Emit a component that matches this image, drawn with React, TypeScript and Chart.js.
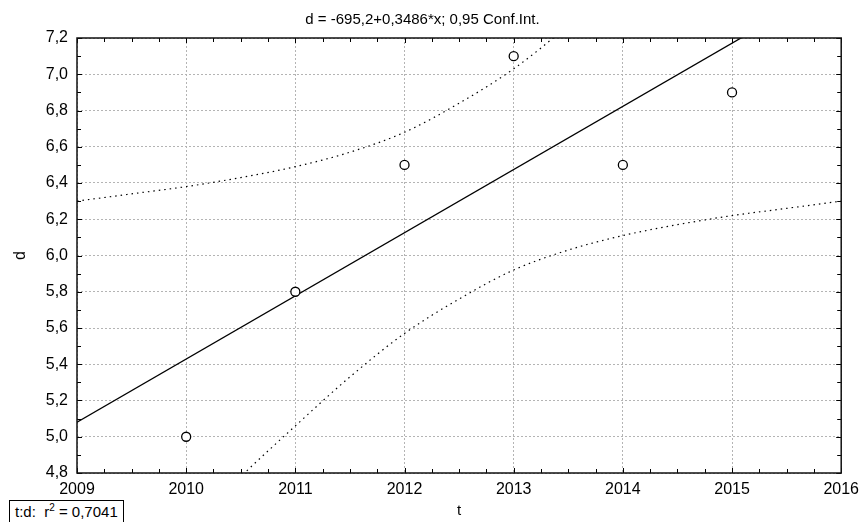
import React, { useEffect, useRef } from "react";
import { Chart, registerables } from "chart.js";

Chart.register(...registerables);

// ---- data ----
const titleText = "d = -695,2+0,3486*x; 0,95 Conf.Int.";
const xTitle = "t";
const yTitle = "d";
const years = [2010, 2011, 2012, 2013, 2014, 2015];
const dValues = [5.0, 5.8, 6.5, 7.1, 6.5, 6.9];
const fitX = [2009, 2016];
const fitY = [5.08, 7.52];
const bandX = [2009, 2009.5, 2010, 2010.5, 2011, 2011.5, 2012, 2012.5, 2013, 2013.5, 2014, 2014.5, 2015, 2015.5, 2016];
const upperBand = [6.30, 6.34, 6.38, 6.43, 6.49, 6.57, 6.68, 6.84, 7.03, 7.27, 7.54, 7.82, 8.12, 8.43, 8.74];
const lowerBand = [3.86, 4.17, 4.48, 4.78, 5.06, 5.33, 5.57, 5.76, 5.92, 6.03, 6.11, 6.17, 6.22, 6.26, 6.30];
const xMin = 2009, xMax = 2016, xStep = 1, xMinorStep = 0.25;
const yMin = 4.8, yMax = 7.2, yStep = 0.2, yMinorStep = 0.1;
const r2Label = "0,7041";

const FONT = 'Arial, "Liberation Sans", sans-serif';

const framePlugin = {
  id: "frameTicks",
  afterDraw(chart: any) {
    const { ctx, chartArea } = chart;
    const { left, right, top, bottom } = chartArea;
    const xs = chart.scales.x;
    const ys = chart.scales.y;
    ctx.save();
    ctx.strokeStyle = "#000";
    ctx.lineWidth = 1;
    ctx.beginPath();
    const nx = Math.round((xMax - xMin) / xMinorStep);
    for (let i = 0; i <= nx; i++) {
      const v = xMin + i * xMinorStep;
      const px = Math.round(xs.getPixelForValue(v)) + 0.5;
      const len = i % Math.round(xStep / xMinorStep) === 0 ? 5 : 4;
      ctx.moveTo(px, bottom);
      ctx.lineTo(px, bottom - len);
      ctx.moveTo(px, top);
      ctx.lineTo(px, top + len);
    }
    const ny = Math.round((yMax - yMin) / yMinorStep);
    for (let i = 0; i <= ny; i++) {
      const v = yMin + i * yMinorStep;
      const py = Math.round(ys.getPixelForValue(v)) + 0.5;
      const len = i % Math.round(yStep / yMinorStep) === 0 ? 5 : 4;
      ctx.moveTo(left, py);
      ctx.lineTo(left + len, py);
      ctx.moveTo(right, py);
      ctx.lineTo(right - len, py);
    }
    ctx.stroke();
    ctx.lineWidth = 1.5;
    ctx.strokeStyle = "#111";
    ctx.strokeRect(left, top, right - left, bottom - top);
    ctx.restore();
  },
};

export default function App() {
  const canvasRef = useRef<HTMLCanvasElement | null>(null);

  useEffect(() => {
    if (!canvasRef.current) return;
    Chart.defaults.font.family = FONT;
    Chart.defaults.color = "#000";
    const chart = new Chart(canvasRef.current, {
      type: "scatter",
      data: {
        datasets: [
          {
            label: "d",
            data: years.map((x, i) => ({ x, y: dValues[i] })),
            pointRadius: 4.5,
            pointBackgroundColor: "#fff",
            pointBorderColor: "#000",
            pointBorderWidth: 1.3,
            showLine: false,
          },
          {
            label: "fit",
            data: fitX.map((x, i) => ({ x, y: fitY[i] })),
            showLine: true,
            borderColor: "#000",
            borderWidth: 1.3,
            pointRadius: 0,
          },
          {
            label: "upper",
            data: bandX.map((x, i) => ({ x, y: upperBand[i] })),
            showLine: true,
            borderColor: "#000",
            borderWidth: 1.2,
            borderDash: [1.5, 4],
            pointRadius: 0,
            cubicInterpolationMode: "monotone",
          },
          {
            label: "lower",
            data: bandX.map((x, i) => ({ x, y: lowerBand[i] })),
            showLine: true,
            borderColor: "#000",
            borderWidth: 1.2,
            borderDash: [1.5, 4],
            pointRadius: 0,
            cubicInterpolationMode: "monotone",
          },
        ],
      } as any,
      options: {
        animation: false,
        responsive: false,
        events: [],
        layout: { padding: { left: 0, right: 21, top: 0, bottom: 0 } },
        plugins: {
          legend: { display: false },
          tooltip: { enabled: false },
          title: {
            display: true,
            text: titleText,
            color: "#000",
            font: { family: FONT, size: 15, weight: "normal" },
            padding: { top: 11, bottom: 9 },
          },
        },
        scales: {
          x: {
            type: "linear",
            min: xMin,
            max: xMax,
            afterFit: (s: any) => {
              s.height = 49;
            },
            ticks: {
              stepSize: xStep,
              padding: 7,
              font: { family: FONT, size: 16 },
              color: "#000",
              maxRotation: 0,
              callback: (v: any) => String(v),
            },
            grid: { color: "#b4b4b4", lineWidth: 1, drawTicks: false },
            border: { display: false, dash: [2, 2] },
            title: {
              display: true,
              text: xTitle,
              font: { family: FONT, size: 15 },
              color: "#000",
              padding: { top: 0, bottom: 2 },
            },
          },
          y: {
            type: "linear",
            min: yMin,
            max: yMax,
            afterFit: (s: any) => {
              s.width = 77;
            },
            ticks: {
              stepSize: yStep,
              padding: 9,
              font: { family: FONT, size: 16 },
              color: "#000",
              callback: (v: any) => Number(v).toFixed(1).replace(".", ","),
            },
            grid: { color: "#b4b4b4", lineWidth: 1, drawTicks: false },
            border: { display: false, dash: [2, 2] },
            title: {
              display: true,
              text: yTitle,
              font: { family: FONT, size: 16 },
              color: "#000",
              padding: { top: 11, bottom: 0 },
            },
          },
        },
      } as any,
      plugins: [framePlugin],
    });
    return () => chart.destroy();
  }, []);

  return (
    <div style={{ position: "fixed", left: 0, top: 0, width: 866, height: 522, background: "#fff" }}>
      <canvas ref={canvasRef} width={866} height={522} style={{ display: "block" }} />
      <div
        style={{
          position: "absolute",
          left: 9,
          top: 500,
          height: 22,
          boxSizing: "border-box",
          border: "1.5px solid #000",
          borderBottom: "none",
          padding: "2px 5px 0 5px",
          fontFamily: FONT,
          fontSize: 15,
          lineHeight: "18px",
          color: "#000",
          whiteSpace: "pre",
          background: "#fff",
        }}
      >
        {"t:d:  r"}
        <sup style={{ fontSize: 10, lineHeight: 0 }}>2</sup>
        {" = " + r2Label}
      </div>
    </div>
  );
}
